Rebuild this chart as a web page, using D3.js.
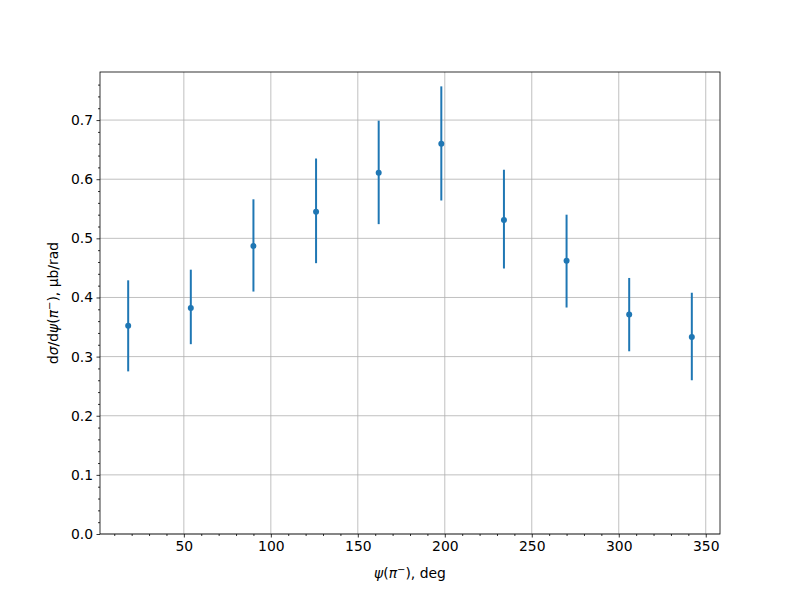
<!DOCTYPE html>
<html>
<head>
<meta charset="utf-8">
<script src="https://cdn.jsdelivr.net/npm/d3@7"></script>
<style>
body { margin: 0; background: #fff; }
svg { font-family: "DejaVu Sans", sans-serif; }
</style>
</head>
<body>
<svg id="chart" width="800" height="600"></svg>
<script>
const psi = [18, 54, 90, 126, 162, 198, 234, 270, 306, 342];
const xsec = [0.352, 0.382, 0.487, 0.545, 0.611, 0.660, 0.531, 0.462, 0.371, 0.333];
const errUp = [0.077, 0.065, 0.079, 0.090, 0.088, 0.097, 0.085, 0.078, 0.062, 0.075];
const errDown = [0.077, 0.061, 0.077, 0.087, 0.087, 0.096, 0.082, 0.079, 0.062, 0.073];
const xTicks = [50, 100, 150, 200, 250, 300, 350];
const yTicks = [0.0, 0.1, 0.2, 0.3, 0.4, 0.5, 0.6, 0.7];

const svg = d3.select("#chart");
const L = 100, R = 720, T = 72, B = 534;
const x = d3.scaleLinear().domain([1.8, 358.2]).range([L, R]);
const y = d3.scaleLinear().domain([0, 0.7813]).range([B, T]);
const fs = "13.9px";

// grid
const g = svg.append("g");
g.selectAll(".gx").data(xTicks).enter().append("line")
  .attr("x1", d => x(d)).attr("x2", d => x(d)).attr("y1", T).attr("y2", B)
  .attr("stroke", "#b0b0b0").attr("stroke-width", 0.8);
g.selectAll(".gy").data(yTicks).enter().append("line")
  .attr("x1", L).attr("x2", R).attr("y1", d => y(d)).attr("y2", d => y(d))
  .attr("stroke", "#b0b0b0").attr("stroke-width", 0.8);

// error bars
svg.append("g").selectAll("line").data(psi).enter().append("line")
  .attr("x1", d => x(d)).attr("x2", d => x(d))
  .attr("y1", (d, i) => y(xsec[i] + errUp[i]))
  .attr("y2", (d, i) => y(xsec[i] - errDown[i]))
  .attr("stroke", "#1f77b4").attr("stroke-width", 2);

// points
svg.append("g").selectAll("circle").data(psi).enter().append("circle")
  .attr("cx", d => x(d)).attr("cy", (d, i) => y(xsec[i]))
  .attr("r", 3).attr("fill", "#1f77b4");

// axes
const xMinor = d3.range(10, 360, 10).filter(v => v % 50 !== 0);
const yMinor = d3.range(0, 0.78, 0.02).filter(v => Math.abs(v * 10 - Math.round(v * 10)) > 1e-6);

const xAxis = d3.axisBottom(x).tickValues(xTicks).tickSize(3.5).tickPadding(3.5).tickFormat(d3.format("d"));
const xAxisMinor = d3.axisBottom(x).tickValues(xMinor).tickSize(2).tickFormat("");
const yAxis = d3.axisLeft(y).tickValues(yTicks).tickSize(3.5).tickPadding(3.5).tickFormat(d3.format(".1f"));
const yAxisMinor = d3.axisLeft(y).tickValues(yMinor).tickSize(2).tickFormat("");

function style(sel) {
  sel.select(".domain").remove();
  sel.selectAll("line").attr("stroke", "#000").attr("stroke-width", 0.8);
  sel.selectAll("text").attr("fill", "#000").style("font-size", fs).style("font-family", "DejaVu Sans");
}
svg.append("g").attr("transform", `translate(0,${B})`).call(xAxis).call(style);
svg.append("g").attr("transform", `translate(0,${B})`).call(xAxisMinor).call(style);
svg.append("g").attr("transform", `translate(${L},0)`).call(yAxis).call(style);
svg.append("g").attr("transform", `translate(${L},0)`).call(yAxisMinor).call(style);

// frame
svg.append("rect").attr("x", L).attr("y", T).attr("width", R - L).attr("height", B - T)
  .attr("fill", "none").attr("stroke", "#000").attr("stroke-width", 0.8);

// x label
const xl = svg.append("text").attr("x", (L + R) / 2).attr("y", 578)
  .attr("text-anchor", "middle").style("font-size", fs).attr("fill", "#000");
xl.append("tspan").attr("font-style", "italic").text("ψ");
xl.append("tspan").text("(");
xl.append("tspan").attr("font-style", "italic").text("π");
xl.append("tspan").attr("dy", -5).style("font-size", "10px").text("−");
xl.append("tspan").attr("dy", 5).text("), deg");

// y label
const yl = svg.append("text").attr("transform", `translate(58,${(T + B) / 2}) rotate(-90)`)
  .attr("text-anchor", "middle").style("font-size", fs).attr("fill", "#000");
yl.append("tspan").text("d");
yl.append("tspan").attr("font-style", "italic").text("σ");
yl.append("tspan").text("/d");
yl.append("tspan").attr("font-style", "italic").text("ψ");
yl.append("tspan").text("(");
yl.append("tspan").attr("font-style", "italic").text("π");
yl.append("tspan").attr("dy", -5).style("font-size", "10px").text("−");
yl.append("tspan").attr("dy", 5).text("), μb/rad");
</script>
</body>
</html>
